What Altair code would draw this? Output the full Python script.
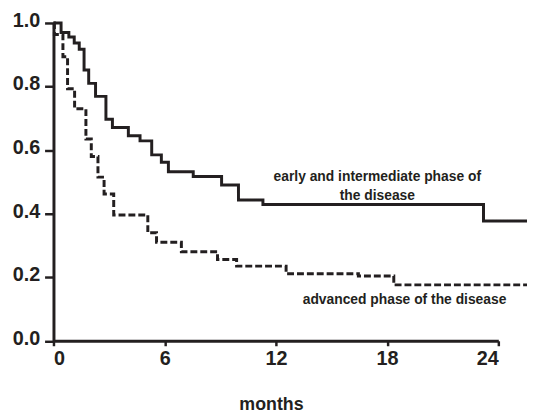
import altair as alt
import pandas as pd

# Kaplan-Meier style step curves
early_months = [0, 0.41, 0.83, 1.12, 1.39, 1.65, 1.9, 2.27, 2.83, 3.18, 4.04, 4.67, 5.3, 5.82, 6.2, 7.54, 9.07, 9.98, 11.3, 23.2, 25.65]
early_surv = [1.0, 0.970, 0.956, 0.937, 0.917, 0.852, 0.81, 0.769, 0.697, 0.671, 0.645, 0.629, 0.585, 0.562, 0.532, 0.517, 0.490, 0.443, 0.429, 0.377, 0.377]

adv_months = [0, 0.05, 0.51, 0.76, 1.14, 1.75, 2.04, 2.4, 2.73, 3.25, 5.09, 5.56, 6.9, 8.85, 9.88, 12.55, 16.45, 18.36, 25.65]
adv_surv = [1.0, 0.964, 0.894, 0.793, 0.73, 0.635, 0.58, 0.515, 0.462, 0.396, 0.34, 0.31, 0.28, 0.256, 0.235, 0.211, 0.204, 0.176, 0.176]

x_ticks = [0, 6, 12, 18, 24]
y_ticks = [0.0, 0.2, 0.4, 0.6, 0.8, 1.0]

label_text = ["early and intermediate phase of", "the disease", "advanced phase of the disease"]
label_months = [17.47, 17.47, 18.94]
label_surv = [0.503, 0.443, 0.115]

INK = "#231f20"
FONT = "Liberation Sans"

df = pd.concat([
    pd.DataFrame({"months": early_months, "surv": early_surv, "group": "early"}),
    pd.DataFrame({"months": adv_months, "surv": adv_surv, "group": "advanced"}),
], ignore_index=True)

labels = pd.DataFrame({"months": label_months, "surv": label_surv, "text": label_text})

x_enc = alt.X(
    "months:Q",
    scale=alt.Scale(domain=[0, 24], nice=False, zero=True),
    axis=alt.Axis(values=x_ticks, format="d", title="months", tickSize=5, labelPadding=3,
                  titleX=220, titleY=69, titleAlign="center", titleBaseline="alphabetic",
                  titleFont=FONT, titleFontSize=18, titleFontWeight="bold", titleColor=INK),
)
y_enc = alt.Y(
    "surv:Q",
    scale=alt.Scale(domain=[0, 1], nice=False),
    axis=alt.Axis(values=y_ticks, format=".1f", title=None, tickSize=9, labelPadding=5, labelOffset=-2.5),
)

lines = alt.Chart(df).mark_line(
    interpolate="step-after", strokeWidth=3, color=INK, clip=False,
    strokeJoin="miter", strokeCap="butt",
).encode(
    x=x_enc,
    y=y_enc,
    strokeDash=alt.StrokeDash("group:N", scale=alt.Scale(domain=["early", "advanced"], range=[[1, 0], [7, 3]]), legend=None),
)

text = alt.Chart(labels).mark_text(
    font=FONT, fontWeight="bold", fontSize=14, color=INK, align="center", baseline="alphabetic",
).encode(
    x=alt.X("months:Q"),
    y=alt.Y("surv:Q"),
    text="text:N",
)

chart = alt.layer(lines, text).properties(
    width=450,
    height=321.5,
    autosize=alt.AutoSizeParams(type="none"),
    padding={"left": 46, "top": 12.8, "right": 29, "bottom": 72},
).configure_axis(
    domainColor=INK, domainWidth=3, tickColor=INK, tickWidth=2.5,
    labelColor=INK, labelFont=FONT, labelFontSize=20, labelFontWeight="bold",
    grid=False,
).configure_view(stroke=None)

chart.save("out.html", embed_options={"renderer": "svg", "actions": False})
